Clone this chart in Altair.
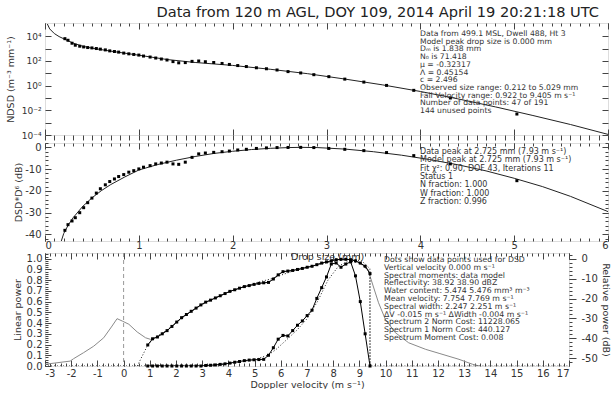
import altair as alt
import pandas as pd

FONT = "DejaVu Sans"
INK = "#333333"
TICK = "#444444"

TITLE = "Data from 120 m AGL, DOY 109, 2014 April 19 20:21:18 UTC"

# ---------------- Panel 1: DSD (log) ----------------
model_D = [0.025, 0.05, 0.1, 0.15, 0.2, 0.3, 0.4, 0.5, 0.7, 1.0, 1.3, 1.6, 2.0, 2.4,
           2.8, 3.2, 3.6, 4.0, 4.4, 4.8, 5.2, 5.6, 6.0]
model_logN = [5.0, 4.6, 4.22, 3.98, 3.8, 3.45, 3.2, 3.04, 2.8, 2.47, 2.12, 1.88, 1.64, 1.33,
              0.97, 0.53, 0.06, -0.47, -1.07, -1.72, -2.42, -3.15, -3.95]

obs_D = [0.212, 0.245, 0.288, 0.323, 0.37, 0.412, 0.455, 0.5, 0.547, 0.59, 0.643, 0.69,
         0.74, 0.785, 0.839, 0.893, 0.946, 1.0, 1.05, 1.12, 1.18, 1.24, 1.3, 1.364, 1.425,
         1.495, 1.567, 1.638, 1.709, 1.798, 1.887, 1.965, 2.054, 2.146, 2.253, 2.36, 2.473,
         2.59, 2.725, 2.865, 3.025, 3.195, 3.398, 3.64, 3.93, 4.32, 5.029]
obs_logN = [3.81, 3.68, 3.44, 3.28, 3.2, 3.14, 3.09, 3.06, 3.01, 2.96, 2.9, 2.82, 2.77, 2.72,
            2.64, 2.58, 2.53, 2.48, 2.4, 2.32, 2.24, 2.16, 2.08, 1.95, 1.85, 1.87, 1.97, 2.0,
            1.94, 1.88, 1.8, 1.72, 1.63, 1.55, 1.45, 1.37, 1.27, 1.14, 1.03, 0.89, 0.73, 0.53,
            0.29, 0.02, -0.38, -1.0, -2.3]

# ---------------- Panel 2: DSD*D^6 (dB) ----------------
zmodel_D = [0.17, 0.2, 0.25, 0.3, 0.4, 0.5, 0.6, 0.7, 0.85, 1.0, 1.2, 1.4, 1.6, 1.8, 2.0,
            2.2, 2.4, 2.6, 2.725, 2.9, 3.2, 3.5, 3.8, 4.1, 4.4, 4.7, 5.0, 5.3, 5.6, 6.0]
zmodel_dB = [-43.5, -39.5, -35.5, -32.3, -27.2, -23.2, -19.9, -17.1, -13.6, -10.4, -7.9,
             -5.9, -4.2, -2.8, -1.8, -1.0, -0.45, -0.1, 0.0, -0.1, -0.8, -2.0, -3.6, -5.6,
             -8.0, -10.8, -14.2, -18.0, -22.5, -29.5]
obs_zdB = [-38.1, -35.5, -33.8, -32.3, -30.0, -27.7, -25.4, -23.3, -21.0, -19.0, -17.2,
           -15.7, -14.5, -13.4, -12.5, -11.4, -10.7, -9.9, -9.1, -8.4, -7.6, -7.2, -6.8,
           -7.6, -7.8, -6.8, -4.6, -3.0, -2.6, -2.3, -2.0, -1.7, -1.2, -0.9, -0.5, -0.25,
           -0.1, -0.05, 0.0, -0.1, -0.5, -0.9, -1.5, -2.4, -3.8, -7.6, -15.3]

# ---------------- Panel 3: Doppler spectra ----------------
vel = [0.922, 1.106, 1.291, 1.475, 1.659, 1.844, 2.028, 2.213, 2.397, 2.581, 2.766, 2.950,
       3.134, 3.319, 3.503, 3.688, 3.872, 4.056, 4.241, 4.425, 4.609, 4.794, 4.978, 5.163,
       5.347, 5.531, 5.716, 5.900, 6.084, 6.269, 6.453, 6.638, 6.822, 7.006, 7.191, 7.375,
       7.559, 7.744, 7.928, 8.113, 8.297, 8.481, 8.666, 8.850, 9.034, 9.219, 9.405]
spec_dB = [-43.3, -40.2, -39.3, -37.7, -36.1, -34.0, -31.8, -29.6, -28.0, -26.4, -24.8,
           -23.2, -21.8, -20.8, -19.7, -18.6, -17.5, -16.4, -15.6, -14.8, -14.0, -13.5,
           -12.9, -12.4, -12.1, -11.9, -10.2, -8.1, -6.5, -6.2, -5.9, -5.4, -4.9, -4.3,
           -3.8, -3.0, -2.2, -1.6, -1.1, -0.5, -0.3, -0.3, -0.5, -1.1, -2.2, -3.8, -7.5]
spec_lin = [0.0, 0.0, 0.0, 0.0, 0.0, 0.0, 0.0, 0.0, 0.0, 0.0, 0.0, 0.0, 0.005, 0.007, 0.01,
            0.015, 0.02, 0.027, 0.035, 0.042, 0.05, 0.055, 0.058, 0.06, 0.062, 0.1, 0.17,
            0.25, 0.285, 0.28, 0.33, 0.38, 0.42, 0.47, 0.52, 0.63, 0.73, 0.83, 0.95, 0.96,
            0.92, 0.95, 0.97, 0.84, 0.6, 0.3, 0.0]

full_left_v = [-3.0, -2.04, -1.91, -1.53, -1.14, -0.76, -0.44, -0.25, -0.05, 0.2, 0.52, 0.84, 1.03]
full_left_dB = [-53.0, -51.4, -50.2, -47.2, -43.9, -39.7, -33.8, -30.1, -31.3, -32.9, -36.8,
                -39.7, -40.5]
full_tail_v = [9.32, 9.73, 9.99, 10.37, 10.88, 11.53, 12.04, 12.8, 13.32, 13.6]
full_tail_dB = [-5.3, -22.1, -30.4, -37.1, -42.2, -45.5, -47.5, -50.5, -53.0, -53.9]

mdl_dB_v = [0.52, 0.922, 1.2, 1.6, 2.0, 2.4, 2.8, 3.2, 3.6, 4.0, 4.4, 4.8, 5.2, 5.6, 6.0,
            6.4, 6.8, 7.2, 7.6, 8.0, 8.4, 8.8, 9.1, 9.4, 9.405]
mdl_dB = [-53.9, -43.3, -39.5, -36.3, -32.3, -28.2, -24.6, -21.6, -19.1, -16.9, -14.9,
          -13.2, -11.6, -10.2, -8.3, -6.5, -5.0, -3.7, -2.5, -1.4, -0.6, -0.4, -1.2, -5.0,
          -60.0]
mdl_lin_v = [-3.0, 3.0, 3.5, 4.0, 4.5, 5.0, 5.5, 5.8, 6.2, 6.6, 7.0, 7.4, 7.8, 8.2, 8.6,
             9.0, 9.3, 9.405, 9.406, 17.0]
mdl_lin = [0.0, 0.0, 0.01, 0.022, 0.04, 0.06, 0.1, 0.15, 0.24, 0.33, 0.44, 0.6, 0.8, 0.93,
           0.98, 0.96, 0.9, 0.88, 0.0, 0.0]

txt1 = ["Data from 499.1 MSL, Dwell 488, Ht 3",
        "Model peak drop size is 0.000 mm",
        "Dₘ is 1.838 mm",
        "N₀ is 71.418",
        "μ = -0.32317",
        "Λ = 0.45154",
        "c = 2.496",
        "Observed size range: 0.212 to 5.029 mm",
        "Fall Velocity range:  0.922 to 9.405 m s⁻¹",
        "Number of data points:  47 of 191",
        "144 unused points"]
txt2 = ["Data peak at 2.725 mm (7.93 m s⁻¹)",
        "Model peak at 2.725 mm (7.93 m s⁻¹)",
        "Fit χ²: 0.90, DOF 43, Iterations 11",
        "Status 1",
        "N fraction:  1.000",
        "W fraction:  1.000",
        "Z fraction:  0.996"]
txt3 = ["Dots show data points used for DSD",
        "Vertical velocity 0.000 m s⁻¹",
        "Spectral moments: data  model",
        "Reflectivity:    38.92  38.90 dBZ",
        "Water content:  5.474  5.476  mm³ m⁻³",
        "Mean velocity:  7.754  7.769 m s⁻¹",
        "Spectral width:  2.247  2.251 m s⁻¹",
        "ΔV -0.015 m s⁻¹   ΔWidth -0.004 m s⁻¹",
        "Spectrum 2 Norm Cost:  11228.065",
        "Spectrum 1 Norm Cost:  440.127",
        "Spectrum Moment Cost:  0.008"]

# ---------------- helpers ----------------
LBL = dict(labels=True, labelFont=FONT, labelFontSize=10, labelColor=INK, labelOverlap=False)
TTL = dict(titleFont=FONT, titleFontSize=9.5, titleFontWeight="normal", titleColor=INK)
FIX_MINUS = "replace(datum.label, '\u2212', '-')"


def axis(orient, values, size, inward=True, **kw):
    base = dict(orient=orient, values=values, tickSize=size, domain=False, grid=False,
                tickColor=TICK, tickWidth=1, labels=False, title=None)
    if inward:
        base["offset"] = -size
    base.update(kw)
    return alt.Axis(**base)


def text_layer(lines, x, y, lh, fs):
    return alt.Chart(pd.DataFrame({"k": [0]})).mark_text(
        text=lines, align="left", baseline="top", font=FONT, fontSize=fs,
        lineHeight=lh, color=INK).encode(x=alt.value(x), y=alt.value(y))


D_major = list(range(0, 7))
D_minor = [round(i * 0.1, 1) for i in range(61)]
xD = alt.Scale(domain=[0, 6], nice=False, zero=False)

# ---------------- Panel 1 ----------------
df_m1 = pd.DataFrame({"D": model_D, "N": [10 ** v for v in model_logN]})
df_o1 = pd.DataFrame({"D": obs_D, "N": [10 ** v for v in obs_logN]})
y1 = alt.Scale(type="log", domain=[1e-4, 10 ** 5.08], nice=False)
decades = [10.0 ** k for k in range(-4, 5)]
e = "round(log(datum.value)/LN10)"
dec_expr = (f"{e}==4?'10⁴':{e}==2?'10²':{e}==0?'10⁰':{e}==-2?'10⁻²':"
            f"{e}==-4?'10⁻⁴':''")

p1_line = alt.Chart(df_m1).mark_line(color="#222", strokeWidth=1, clip=True).encode(
    x=alt.X("D:Q", scale=xD, axis=axis("bottom", D_major, 6)),
    y=alt.Y("N:Q", scale=y1, axis=axis("left", decades, 6, labelExpr=dec_expr,
                                       labelPadding=4, title="NDSD (m⁻³ mm⁻¹)",
                                       titlePadding=6, **{**LBL, "labelFontSize": 9}, **TTL)))
p1_pts = alt.Chart(df_o1).mark_square(size=9, color="#000", opacity=1).encode(
    x=alt.X("D:Q", scale=xD, axis=axis("bottom", D_minor, 5, inward=False)),
    y=alt.Y("N:Q", scale=y1, axis=axis("right", decades, 6)))
p1_c1 = alt.Chart(df_m1).mark_line(opacity=0).encode(
    x=alt.X("D:Q", scale=xD, axis=axis("top", D_major, 6)),
    y=alt.Y("N:Q", scale=y1, axis=None))
p1_c2 = alt.Chart(df_m1).mark_line(opacity=0).encode(
    x=alt.X("D:Q", scale=xD, axis=axis("top", D_minor, 3)),
    y=alt.Y("N:Q", scale=y1, axis=None))
p1 = alt.layer(p1_line, p1_pts, p1_c1, p1_c2,
               text_layer(txt1, 375, 7, 7.7, 7.7)).resolve_axis(
    x="independent", y="independent").properties(width=563, height=112)

# ---------------- Panel 2 ----------------
df_m2 = pd.DataFrame({"D": zmodel_D, "Z": zmodel_dB})
df_o2 = pd.DataFrame({"D": obs_D, "Z": obs_zdB})
y2 = alt.Scale(domain=[-43, 2], nice=False, zero=False)
Z_major = [-40, -30, -20, -10, 0]
Z_minor = list(range(-42, 3, 2))

p2_line = alt.Chart(df_m2).mark_line(color="#222", strokeWidth=1, clip=True).encode(
    x=alt.X("D:Q", scale=xD, axis=axis("bottom", D_major, 6, labelPadding=-1, **LBL)),
    y=alt.Y("Z:Q", scale=y2, axis=axis("left", Z_major, 6, labelPadding=4,
                                       labelExpr=FIX_MINUS, title="DSD*D⁶ (dB)",
                                       titlePadding=1, **LBL, **TTL)))
p2_pts = alt.Chart(df_o2).mark_square(size=9, color="#000", opacity=1).encode(
    x=alt.X("D:Q", scale=xD, axis=axis("bottom", D_minor, 3)),
    y=alt.Y("Z:Q", scale=y2, axis=axis("left", Z_minor, 3)))
p2_c1 = alt.Chart(df_m2).mark_line(opacity=0).encode(
    x=alt.X("D:Q", scale=xD, axis=axis("top", D_major, 6)),
    y=alt.Y("Z:Q", scale=y2, axis=axis("right", Z_major, 6)))
p2_c2 = alt.Chart(df_m2).mark_line(opacity=0).encode(
    x=alt.X("D:Q", scale=xD, axis=axis("top", D_minor, 3)),
    y=alt.Y("Z:Q", scale=y2, axis=axis("right", Z_minor, 3)))
p2 = alt.layer(p2_line, p2_pts, p2_c1, p2_c2,
               text_layer(txt2, 375, 5, 8.3, 8.0)).resolve_axis(
    x="independent", y="independent").properties(width=563, height=98)

# ---------------- Panel 3 ----------------
xv = alt.Scale(domain=[-3, 17], nice=False, zero=False)
ylin = alt.Scale(domain=[0, 1.053], nice=False, zero=False)
ydb = alt.Scale(domain=[-53.86, 2.86], nice=False, zero=False)
V_major = list(range(-3, 18))
V_minor = [round(-3 + 0.2 * i, 1) for i in range(101)]
L_major = [round(0.1 * i, 1) for i in range(11)]
L_minor = [round(0.02 * i, 2) for i in range(53)]
DB_major = [0, -10, -20, -30, -40, -50]
DB_minor = list(range(-52, 3, 2))

full_v = full_left_v + vel[1:-1] + full_tail_v
full_dB = full_left_dB + spec_dB[1:-1] + full_tail_dB
df_full = pd.DataFrame({"v": full_v, "dB": full_dB, "o": list(range(len(full_v)))})
df_obs3 = pd.DataFrame({"v": vel, "dB": spec_dB, "lin": spec_lin})
df_mdb = pd.DataFrame({"v": mdl_dB_v, "dB": mdl_dB, "o": list(range(len(mdl_dB_v)))})
df_mlin = pd.DataFrame({"v": mdl_lin_v, "lin": mdl_lin, "o": list(range(len(mdl_lin_v)))})
df_zero = pd.DataFrame({"v": [0.0]})

rule0 = alt.Chart(df_zero).mark_rule(color="#999", strokeDash=[4, 3], strokeWidth=1).encode(
    x=alt.X("v:Q", scale=xv, axis=None))
gray = alt.Chart(df_full).mark_line(color="#8a8a8a", strokeWidth=1, clip=True).encode(
    x=alt.X("v:Q", scale=xv, axis=axis("top", V_minor, 3)),
    y=alt.Y("dB:Q", scale=ydb, axis=axis("right", DB_major, 7, inward=False, labelPadding=5,
                                         labelExpr=FIX_MINUS, title="Relative power (dB)",
                                         titlePadding=3, **LBL, **TTL)),
    order="o:Q")
m_db = alt.Chart(df_mdb).mark_line(color="#222", strokeWidth=1, strokeDash=[1, 2],
                                   clip=True).encode(
    x=alt.X("v:Q", scale=xv, axis=None),
    y=alt.Y("dB:Q", scale=ydb, axis=axis("right", DB_minor, 3, inward=False)),
    order="o:Q")
m_lin = alt.Chart(df_mlin).mark_line(color="#222", strokeWidth=1, strokeDash=[1, 2],
                                     clip=True).encode(
    x=alt.X("v:Q", scale=xv, axis=axis("top", V_major, 6, title="Drop size (mm)",
                                       titlePadding=-9, titleX=282, **TTL)),
    y=alt.Y("lin:Q", scale=ylin, axis=None),
    order="o:Q")
d_db = alt.Chart(df_obs3).mark_line(color="#000", strokeWidth=1, clip=True).encode(
    x=alt.X("v:Q", scale=xv, axis=None),
    y=alt.Y("dB:Q", scale=ydb, axis=None))
d_db_pts = alt.Chart(df_obs3).mark_square(size=9, color="#000", opacity=1).encode(
    x=alt.X("v:Q", scale=xv, axis=None),
    y=alt.Y("dB:Q", scale=ydb, axis=None))
d_lin = alt.Chart(df_obs3).mark_line(color="#000", strokeWidth=1, clip=True).encode(
    x=alt.X("v:Q", scale=xv, axis=axis("bottom", V_major, 6, labelPadding=2,
                                       labelExpr=FIX_MINUS, title="Doppler velocity (m s⁻¹)",
                                       titlePadding=1, **LBL, **TTL)),
    y=alt.Y("lin:Q", scale=ylin, axis=axis("left", L_major, 6, labelPadding=3, format=".1f",
                                           title="Linear power", titlePadding=4,
                                           **LBL, **TTL)))
d_lin_pts = alt.Chart(df_obs3).mark_square(size=9, color="#000", opacity=1).encode(
    x=alt.X("v:Q", scale=xv, axis=axis("bottom", V_minor, 3)),
    y=alt.Y("lin:Q", scale=ylin, axis=axis("left", L_minor, 3)))

p3 = alt.layer(rule0, gray, m_db, m_lin, d_db, d_lin, d_db_pts, d_lin_pts,
               text_layer(txt3, 339, 3, 7.8, 7.8)).resolve_scale(y="independent").resolve_axis(
    x="independent", y="independent").properties(width=524, height=113)

chart = alt.vconcat(p1, p2, p3, spacing=0).properties(
    title=alt.TitleParams(TITLE, font=FONT, fontSize=14.6, fontWeight="normal", color="#222",
                          anchor="middle", offset=2, dx=70),
    padding={"left": 4, "top": 5, "right": 2, "bottom": 0},
).configure_view(stroke="#444", strokeWidth=1).configure(font=FONT)

chart.save("out.html", embed_options={"renderer": "svg", "actions": False})
